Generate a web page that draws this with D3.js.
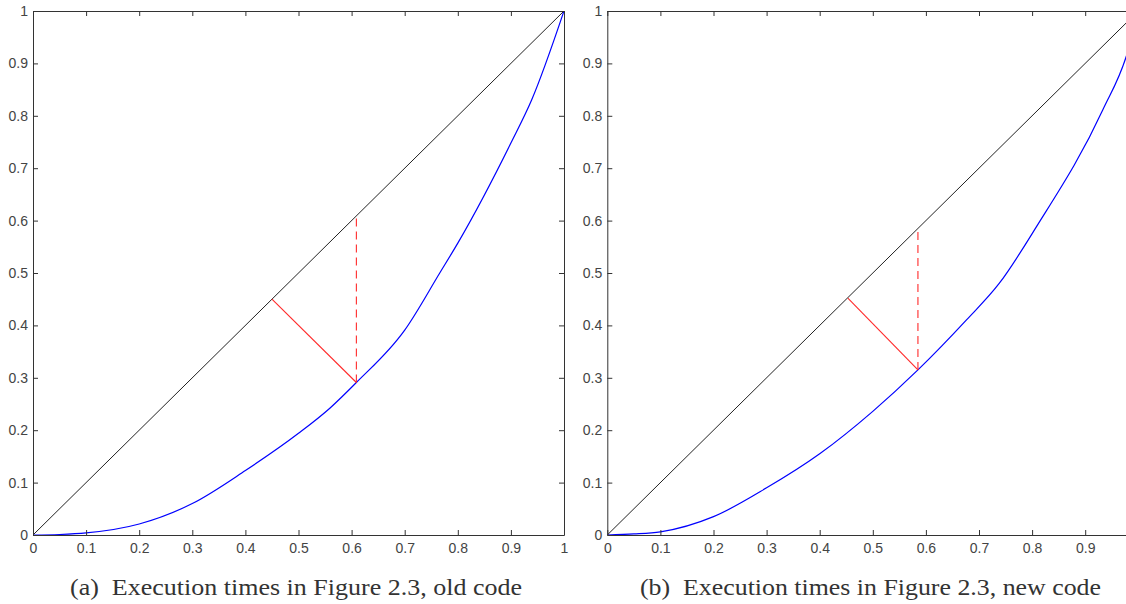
<!DOCTYPE html>
<html>
<head>
<meta charset="utf-8">
<script src="https://cdn.jsdelivr.net/npm/d3@7/dist/d3.min.js"></script>
<style>
  html, body { margin: 0; padding: 0; background: #fff; }
  svg { display: block; }
  .tick text { font-family: "Liberation Sans Narrow", "Arial Narrow", "Liberation Sans", sans-serif; font-size: 14px; fill: #444; }
  .caption { font-family: "Liberation Serif", "DejaVu Serif", serif; font-size: 24px; fill: #333; white-space: pre; }
</style>
</head>
<body>
<script>
// ---- Data ----
const tickValues = [0, 0.1, 0.2, 0.3, 0.4, 0.5, 0.6, 0.7, 0.8, 0.9, 1];

const oldX = [0, 0.05, 0.1, 0.2, 0.3, 0.4, 0.5, 0.559, 0.609, 0.7, 0.766, 0.8, 0.9, 0.939, 1];
const oldY = [0, 0.001, 0.004, 0.021, 0.06, 0.123, 0.194, 0.242, 0.291, 0.391, 0.5, 0.557, 0.748, 0.83, 1];

const newX = [0, 0.05, 0.1, 0.2, 0.3, 0.4, 0.5, 0.585, 0.676, 0.738, 0.808, 0.933, 0.98, 1];
const newY = [0, 0.002, 0.006, 0.035, 0.09, 0.155, 0.236, 0.315, 0.41, 0.48, 0.588, 0.811, 0.922, 1];

const diagonal = [[0, 0], [1, 1]];

// red segments: perpendicular (solid) and vertical (dashed)
const oldPerp = [[0.45, 0.45], [0.609, 0.291]];
const oldVert = [[0.609, 0.291], [0.609, 0.61]];
const newPerp = [[0.453, 0.452], [0.585, 0.315]];
const newVert = [[0.585, 0.315], [0.585, 0.588]];

const captions = ["(a)  Execution times in Figure 2.3, old code",
                  "(b)  Execution times in Figure 2.3, new code"];

// ---- Drawing ----
const W = 1126, H = 604;
const svg = d3.select("body").append("svg").attr("width", W).attr("height", H);

const panels = [
  { left: 33, xs: oldX, ys: oldY, perp: oldPerp, vert: oldVert, caption: captions[0], capX: 70, capW: 452, id: "a" },
  { left: 607.3, xs: newX, ys: newY, perp: newPerp, vert: newVert, caption: captions[1], capX: 640, capW: 461, id: "b" }
];
const plotTop = 11, plotBottom = 535, pw = 531;

panels.forEach(p => {
  const x = d3.scaleLinear().domain([0, 1]).range([p.left, p.left + pw]);
  const y = d3.scaleLinear().domain([0, 1]).range([plotBottom, plotTop]);
  const g = svg.append("g");

  svg.append("clipPath").attr("id", "clip-" + p.id)
    .append("rect").attr("x", p.left).attr("y", plotTop).attr("width", pw).attr("height", plotBottom - plotTop);

  const line = d3.line().x(d => x(d[0])).y(d => y(d[1]));
  const smooth = d3.line().x(d => x(d[0])).y(d => y(d[1])).curve(d3.curveMonotoneX);
  const plot = g.append("g").attr("clip-path", `url(#clip-${p.id})`);

  plot.append("path").datum(diagonal).attr("d", line)
    .attr("fill", "none").attr("stroke", "#222").attr("stroke-width", 1);

  plot.append("path").datum(p.xs.map((v, i) => [v, p.ys[i]])).attr("d", smooth)
    .attr("fill", "none").attr("stroke", "#0000ff").attr("stroke-width", 1.2);

  plot.append("path").datum(p.perp).attr("d", line)
    .attr("fill", "none").attr("stroke", "#ff2a2a").attr("stroke-width", 1.1);
  plot.append("path").datum(p.vert).attr("d", line)
    .attr("fill", "none").attr("stroke", "#ff2a2a").attr("stroke-width", 1.1)
    .attr("stroke-dasharray", "8,5");

  const fmt = d3.format("~g");
  const axStyle = sel => {
    sel.select(".domain").attr("stroke", "#333");
    sel.selectAll(".tick line").attr("stroke", "#333");
  };

  g.append("g").attr("transform", `translate(0,${plotBottom})`)
    .call(d3.axisBottom(x).tickValues(tickValues).tickFormat(fmt).tickSizeInner(-5).tickSizeOuter(0).tickPadding(8))
    .call(axStyle)
    .selectAll(".tick").filter(d => x(d) + 5 > W).select("text").remove();
  g.append("g").attr("transform", `translate(${p.left},0)`)
    .call(d3.axisLeft(y).tickValues(tickValues).tickFormat(fmt).tickSizeInner(-5).tickSizeOuter(0).tickPadding(5))
    .call(axStyle);
  g.append("g").attr("transform", `translate(0,${plotTop})`)
    .call(d3.axisTop(x).tickValues(tickValues).tickFormat("").tickSizeInner(-5).tickSizeOuter(0))
    .call(axStyle);
  g.append("g").attr("transform", `translate(${p.left + pw},0)`)
    .call(d3.axisRight(y).tickValues(tickValues).tickFormat("").tickSizeInner(-5).tickSizeOuter(0))
    .call(axStyle);

  g.selectAll(".tick text").attr("font-family", null).attr("font-size", null).attr("fill", null);

  svg.append("text").attr("class", "caption")
    .attr("x", p.capX).attr("y", 595)
    .attr("textLength", p.capW).attr("lengthAdjust", "spacingAndGlyphs")
    .text(p.caption);
});
</script>
</body>
</html>
